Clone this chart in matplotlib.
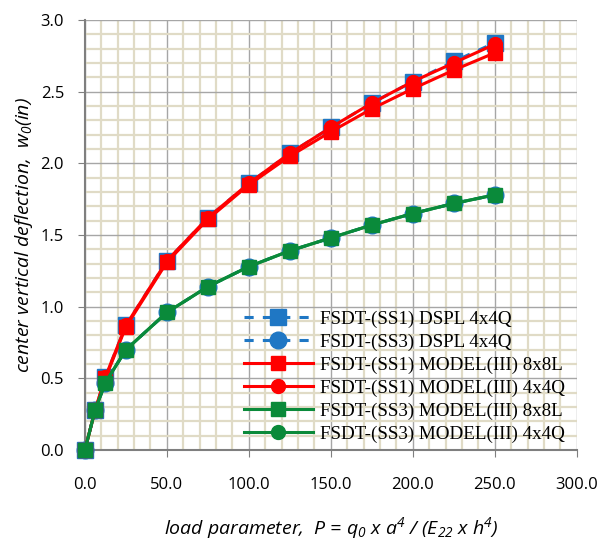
import matplotlib
matplotlib.use("Agg")
import matplotlib.pyplot as plt
from matplotlib.ticker import MultipleLocator, FormatStrFormatter

# load parameter values
load = [0, 6.25, 12.5, 25, 50, 75, 100, 125, 150, 175, 200, 225, 250]

# center deflections
dspl_ss1 = [0, 0.28, 0.51, 0.87, 1.32, 1.62, 1.86, 2.07, 2.25, 2.42, 2.57, 2.71, 2.84]
dspl_ss3 = [0, 0.28, 0.47, 0.70, 0.96, 1.14, 1.28, 1.39, 1.48, 1.57, 1.65, 1.72, 1.78]
m3_ss1_8x8l = [0, 0.28, 0.50, 0.86, 1.31, 1.61, 1.85, 2.05, 2.22, 2.38, 2.52, 2.65, 2.77]
m3_ss1_4x4q = [0, 0.28, 0.51, 0.87, 1.32, 1.62, 1.86, 2.07, 2.25, 2.42, 2.57, 2.70, 2.83]
m3_ss3_8x8l = [0, 0.28, 0.47, 0.70, 0.96, 1.14, 1.28, 1.39, 1.48, 1.57, 1.65, 1.72, 1.78]
m3_ss3_4x4q = [0, 0.28, 0.47, 0.70, 0.96, 1.14, 1.28, 1.39, 1.48, 1.57, 1.65, 1.72, 1.78]

labels = ["FSDT-(SS1) DSPL 4x4Q", "FSDT-(SS3) DSPL 4x4Q",
          "FSDT-(SS1) MODEL(III) 8x8L", "FSDT-(SS1) MODEL(III) 4x4Q",
          "FSDT-(SS3) MODEL(III) 8x8L", "FSDT-(SS3) MODEL(III) 4x4Q"]

plt.rcParams['mathtext.fontset'] = 'custom'
plt.rcParams['mathtext.rm'] = 'Open Sans:italic'
plt.rcParams['mathtext.it'] = 'Open Sans:italic'

fig = plt.figure(figsize=(6.02, 5.53), dpi=100)
ax = fig.add_axes([0.141, 0.186, 0.817, 0.778])

blue = '#1f77c4'
red = '#ff0000'
green = '#0a8a3a'

common = dict(lw=2.2, clip_on=False)
ax.plot(load, dspl_ss1, ls=(0, (3, 3)), color=blue, marker='s', ms=11,
        mfc=blue, mec=blue, label=labels[0], zorder=3, **common)
ax.plot(load, dspl_ss3, ls=(0, (3, 3)), color=blue, marker='o', ms=12,
        mfc=blue, mec=blue, label=labels[1], zorder=3, **common)
ax.plot(load, m3_ss1_8x8l, color=red, marker='s', ms=10,
        mfc=red, mec=red, label=labels[2], zorder=4, **common)
ax.plot(load, m3_ss1_4x4q, color=red, marker='o', ms=10,
        mfc=red, mec=red, label=labels[3], zorder=4, **common)
ax.plot(load, m3_ss3_8x8l, color=green, marker='s', ms=10,
        mfc=green, mec=green, label=labels[4], zorder=5, **common)
ax.plot(load, m3_ss3_4x4q, color=green, marker='o', ms=10,
        mfc=green, mec=green, label=labels[5], zorder=5, **common)

ax.set_xlim(0, 300)
ax.set_ylim(0, 3.0)
ax.xaxis.set_major_locator(MultipleLocator(50))
ax.xaxis.set_minor_locator(MultipleLocator(10))
ax.yaxis.set_major_locator(MultipleLocator(0.5))
ax.yaxis.set_minor_locator(MultipleLocator(0.1))
ax.xaxis.set_major_formatter(FormatStrFormatter('%.1f'))
ax.yaxis.set_major_formatter(FormatStrFormatter('%.1f'))

ax.grid(which='minor', color='#e0dbc6', lw=1.6, zorder=0)
ax.grid(which='major', color='#a6a6a6', lw=1.0, zorder=0)
ax.set_axisbelow(True)

for s in ['top', 'right']:
    ax.spines[s].set_visible(False)
for s in ['left', 'bottom']:
    ax.spines[s].set_color('#7f7f7f')
    ax.spines[s].set_linewidth(1.5)

ax.tick_params(which='major', direction='out', length=5, color='#7f7f7f',
               labelsize=12)
ax.tick_params(axis='x', pad=14)
ax.tick_params(axis='y', pad=10)
ax.tick_params(which='minor', length=0)
for t in ax.get_xticklabels() + ax.get_yticklabels():
    t.set_family('Open Sans')

ax.set_xlabel(r"load parameter,  P = q$_0$ x a$^4$ / (E$_{22}$ x h$^4$)",
              fontsize=14, style='italic', family='Open Sans', labelpad=16)
ax.set_ylabel(r"center vertical deflection,  w$_0$(in)",
              fontsize=14, style='italic', family='Open Sans', labelpad=4)

ax.legend(loc='lower right', bbox_to_anchor=(1.0, -0.01), frameon=False,
          prop={'family': 'Liberation Serif', 'size': 13.7},
          handlelength=3.6, labelspacing=0.3, handletextpad=0.4, borderaxespad=0.2)

fig.savefig('out.png', dpi=100)
